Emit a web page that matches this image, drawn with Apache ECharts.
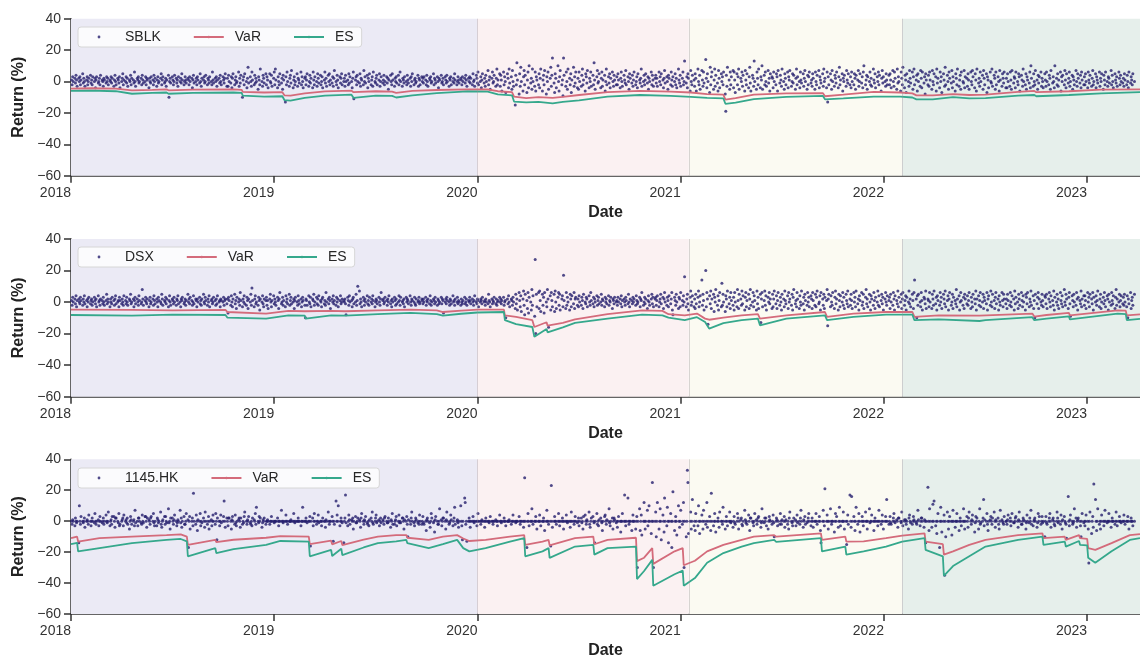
<!DOCTYPE html>
<html>
<head>
<meta charset="utf-8">
<script src="https://cdn.jsdelivr.net/npm/echarts@6/dist/echarts.min.js"></script>
<style>
  html, body { margin: 0; padding: 0; background: #ffffff; }
  #chart { width: 1140px; height: 660px; }
</style>
</head>
<body>
<div id="chart"></div>
<script>
// Daily returns (%) and rolling VaR / ES for three shipping stocks, 2018 - 2023.

const tickers = ['SBLK', 'DSX', '1145.HK'];
const yearTicks = [2018, 2019, 2020, 2021, 2022, 2023];
// Market regimes (decimal years): pre-pandemic, pandemic, recovery, post-2022
const regimeEdges = [2018, 2020, 2021.04, 2022.09, 2023.26];

// Daily returns (%), one value per trading day starting 2018-01-02
const sblkReturns = [
1,-2,3,0,2,-1,4,1,-3,2,0,3,-2,1,5,-1,2,0,-3,1,3,-2,0,2,4,-1,1,-2,3,0,2,-4,1,3,-1,0,2,-2,4,1,0,-3,2,1,-1,3,0,2,-2,1,
0,3,-1,2,-3,1,4,0,-2,2,1,-1,3,-4,0,2,5,-2,1,0,3,-1,2,-3,1,0,4,-2,2,1,-1,6,0,-3,2,1,3,-1,0,2,-2,4,1,-1,0,3,-2,2,1,-4,
2,0,-1,3,1,-2,4,0,2,-3,1,3,-1,0,2,5,-2,1,3,-1,0,2,-3,1,4,-10,0,2,-1,3,1,-2,0,4,2,-1,1,-3,3,0,2,-1,5,1,-2,0,3,1,-1,2,
1,-2,3,0,2,-4,1,4,-1,0,2,-2,3,1,-1,5,0,-3,2,1,3,-1,0,4,-2,2,1,-1,3,0,-2,6,1,-1,2,0,3,-3,1,2,-1,4,0,-2,3,1,-1,2,5,-3,
2,-3,4,0,-1,3,-4,2,5,-2,1,3,-1,0,6,-3,2,-1,4,-10,1,3,-2,5,0,-4,2,9,-1,3,0,-3,6,1,-2,4,-1,2,0,-5,3,1,-2,8,0,-3,4,2,-1,5,
-2,3,1,-4,5,0,-1,4,-3,2,6,-2,8,1,-4,3,0,-2,5,-1,2,-5,4,1,-13,3,-2,6,0,-3,2,4,-1,7,-4,1,3,-2,0,5,-3,2,1,-1,6,-2,3,0,-4,2,
3,-2,1,5,-3,0,4,-1,2,-4,6,1,-2,3,0,-3,5,2,-1,4,-2,0,3,-4,1,6,-1,2,-3,4,0,5,-2,1,-1,3,-3,2,7,0,-2,4,1,-4,3,-1,2,5,-2,0,
2,-3,4,0,1,-2,5,-1,3,0,-4,2,6,-11,1,3,-2,4,0,-1,5,-3,2,1,-2,7,0,3,-1,4,-4,2,0,5,-2,1,3,-3,6,0,-1,2,4,-2,1,5,-3,0,3,-1,
1,4,-2,0,3,-1,2,-5,1,4,0,-2,5,1,-3,2,0,3,-1,4,-2,1,6,0,-3,2,1,-1,3,0,-2,4,1,-1,2,-3,3,0,5,-2,1,2,-1,0,4,-3,2,1,-2,3,
0,2,-1,3,1,-2,4,0,-3,2,1,3,-1,0,5,-2,2,1,-1,3,0,-4,2,1,4,-1,0,2,-2,3,1,-1,4,0,-3,2,1,3,-2,0,2,-1,5,1,-2,0,3,1,-1,2,
1,-2,3,0,2,-1,4,1,-3,2,0,3,-1,2,-2,5,0,1,-3,4,2,-1,6,-2,0,3,-4,1,5,-1,2,-3,4,0,7,-2,1,3,-5,2,6,-1,0,4,-3,2,8,-2,1,5,
-3,4,1,-6,6,-2,3,0,-7,5,2,-4,8,-1,3,-5,7,0,-3,-15,4,-2,12,1,-8,5,-3,9,0,-6,3,7,-2,4,-7,1,6,-4,10,-1,2,-5,8,0,-3,6,-6,3,1,-2,
5,-4,2,8,-6,1,4,-2,7,-8,3,0,6,-5,2,9,-3,4,15,-1,-7,5,2,-4,10,0,-6,3,7,-2,1,-9,15,4,-3,6,0,-5,8,2,-2,5,-7,1,9,-3,3,-1,6,-4,
2,-5,6,0,-3,4,8,-2,1,-6,5,3,-1,7,-4,2,0,6,-3,4,-2,12,1,-5,3,7,-1,0,5,-4,2,6,-3,1,4,-6,0,8,-2,3,-1,5,-4,2,6,0,-3,4,1,-2,
3,-2,5,1,-4,2,6,0,-3,4,1,-1,7,-2,3,0,-5,5,2,-1,4,-3,1,6,-2,0,3,-4,5,1,-1,2,8,-3,0,4,-2,1,5,-1,3,-5,2,0,6,-2,4,1,-3,2,
4,-1,2,-3,6,0,3,-2,5,1,-4,2,7,-1,3,0,-5,4,2,-2,6,1,-3,3,0,5,-2,2,-4,8,1,-1,4,-3,2,6,-2,0,13,-1,3,-4,5,2,-6,7,0,-2,4,1,
-3,5,2,-6,8,0,-2,4,-5,7,1,-3,6,-1,14,2,-4,5,0,-7,9,-2,3,6,-5,1,8,-3,4,-1,-6,7,2,-4,5,0,3,-2,6,-8,-19,4,-3,9,1,-5,6,-2,3,7,
-4,6,1,-7,5,-2,3,8,-5,2,0,6,-3,4,-6,7,1,-2,5,-4,3,9,-1,-6,4,2,-3,13,0,-5,6,2,-2,8,-4,3,1,10,-5,4,-2,6,0,-3,7,-1,2,-6,5,3,
2,-4,6,0,-2,5,3,-6,7,-1,4,1,-3,8,0,-5,5,2,-2,6,-4,3,1,7,-3,0,5,-1,4,-5,2,8,-2,3,0,-4,6,1,-1,5,-3,2,7,0,-5,4,-2,3,6,-1,
1,-3,5,2,-5,6,0,-2,4,7,-4,3,1,-1,5,-3,8,0,2,-4,6,-13,3,-2,5,1,-5,7,0,-3,4,2,-1,6,-4,3,9,-2,1,5,-6,2,0,4,-3,7,1,-1,5,-2,
3,-4,6,0,-2,5,2,-5,4,1,7,-3,0,5,-1,3,-4,6,10,-2,1,4,-5,3,0,6,-2,2,-3,8,1,-1,5,-4,3,0,6,-2,4,-6,2,7,-1,3,0,-3,5,1,-2,4,
-2,5,1,-4,7,0,-3,6,2,-5,8,-1,3,0,-6,6,2,-2,9,-4,4,1,-7,5,0,-3,7,2,-1,6,-5,3,8,-2,1,4,-6,5,0,-3,7,2,-4,6,-1,3,-8,5,1,-2,
4,-3,6,1,-5,7,0,-2,5,3,-6,8,-1,2,-4,6,0,3,-7,5,1,-3,9,-2,4,0,-5,6,2,-1,7,-4,3,0,-6,5,2,-2,8,-3,1,4,-5,6,0,-1,7,-4,3,2,
-3,5,1,-5,6,0,-2,7,3,-4,5,1,-6,8,-1,2,-3,6,0,4,-5,7,2,-2,5,-7,3,1,-4,6,0,-1,8,-3,4,2,-5,6,-2,3,0,-6,7,1,-3,5,2,-1,6,-4,
2,-4,5,0,-3,6,1,-5,7,-1,3,2,-4,6,0,-2,5,3,-6,4,1,-3,8,0,-2,5,-5,3,1,-1,6,-4,10,2,-3,5,0,-2,7,1,-5,4,-1,3,6,-3,2,0,-4,5,
1,-3,6,0,-2,4,2,-5,7,-1,3,0,-4,10,2,-2,5,-3,1,6,-6,3,0,4,-2,7,1,-4,5,-1,2,6,-3,0,4,-5,3,1,-2,7,0,-3,5,2,-1,4,-4,6,1,-2,
3,-2,5,0,-4,6,1,-1,4,-3,2,7,-2,0,5,-4,3,1,-1,6,-3,2,0,5,-5,4,1,-2,6,0,-3,3,2,-1,7,-2,4,0,-4,5,1,-1,3,-3,6,2,-2,4,0,-1,
2,-3,5,1,-2,4,0,-4,6,-1,3,1,-2,5,0
];

const dsxReturns = [
1,-2,3,0,2,-1,4,-3,1,2,0,-1,3,1,-2,2,0,4,-1,1,-3,2,0,3,-1,1,2,-2,0,3,1,-1,2,-3,4,0,1,-2,2,1,-1,3,0,-2,1,5,-1,2,0,-3,
2,0,-1,3,1,-2,2,4,-1,0,1,-3,3,1,-1,2,0,-2,4,1,-1,3,0,-2,2,1,5,-1,0,2,-3,1,3,-1,2,0,-2,4,1,-1,0,8,2,-2,1,3,0,-1,2,-3,
1,3,-1,0,2,-2,4,1,-1,2,0,-3,3,1,0,-1,5,2,-2,1,0,3,-1,2,-3,1,4,0,-2,2,1,-1,3,0,-2,2,1,4,-1,0,-3,2,1,3,-1,0,2,-2,1,5,
0,2,-1,3,1,-2,0,4,-1,2,1,-3,2,0,3,-1,1,-2,2,5,0,-1,3,1,-2,2,0,4,-3,1,2,-1,0,3,1,-2,2,-1,4,0,1,-3,2,1,0,3,-2,1,2,-1,
2,-7,3,1,-2,4,0,-3,2,5,-1,1,-4,3,0,2,-2,6,1,-3,2,0,4,-1,-2,3,1,-4,2,0,5,-2,9,1,-3,2,4,-1,0,-2,3,1,-5,2,0,4,-1,-3,2,1,
3,-2,1,-4,2,5,0,-3,1,4,-1,2,0,-2,3,1,-4,2,6,-1,0,3,-2,1,-3,4,0,2,-1,5,-2,1,3,-1,0,2,-4,1,3,0,-2,4,1,-1,2,-3,0,3,1,-2,
-10,2,1,-2,4,0,-1,3,-3,2,1,5,-2,0,3,-1,2,-2,4,1,0,-3,2,3,-1,1,-2,6,0,2,-1,3,1,-4,2,0,4,-1,1,-2,3,0,2,-3,1,4,-1,0,2,1,
0,2,-1,-8,3,1,-2,4,0,1,-3,2,3,-1,0,5,-2,1,10,7,-1,2,0,-3,3,1,-2,2,0,4,-1,1,-2,3,0,2,-1,4,1,-3,0,2,1,-1,3,0,-2,2,6,1,
2,-1,0,3,1,-2,2,0,4,-1,1,-3,2,0,3,1,-2,2,-1,0,4,1,-2,3,0,1,-1,2,-3,3,0,2,1,-1,4,0,-2,2,1,0,3,-1,-2,2,0,1,3,-1,0,2,
1,-1,2,0,3,-2,1,0,2,-1,4,1,-2,0,2,1,-1,3,0,-2,2,1,-1,0,3,-1,2,1,-7,0,2,-1,3,1,0,-2,2,1,-1,4,0,1,-2,2,0,3,-1,1,0,-2,
2,0,-1,1,3,-1,0,2,-2,1,0,3,1,-1,2,0,-2,1,4,0,-1,2,1,-3,0,2,1,-1,3,0,1,-2,2,0,-1,5,1,0,-3,2,-1,1,0,3,-1,2,-2,0,1,3,
0,2,-1,1,3,-2,0,1,-10,2,-1,4,0,-3,2,1,-2,3,0,-4,5,-1,2,-5,6,1,-3,4,-6,2,7,-2,-8,5,1,-4,6,-7,3,0,-5,8,-2,4,-9,27,-20,5,-3,6,
-4,7,1,-6,5,-2,3,-7,6,0,-3,8,2,-16,4,-5,6,1,-3,5,-6,7,0,-4,3,6,-2,5,-5,2,4,-3,17,1,-4,6,-2,3,0,-5,5,2,-3,4,-1,6,-4,2,3,-2,
2,-3,4,0,-2,3,1,-4,5,0,-1,3,2,-3,4,0,-2,6,1,-1,3,-3,2,0,4,-2,1,3,-1,0,5,-2,2,1,-3,3,0,2,-1,4,-2,1,0,3,-4,2,1,-1,3,0,
1,-2,3,0,2,-1,4,-3,1,2,0,-2,3,1,-1,5,0,-3,2,1,-1,3,0,2,-2,4,1,-1,0,3,-3,2,1,6,-2,0,3,-1,2,-4,1,4,0,-2,2,5,-1,3,-3,2,
3,-2,1,4,-3,0,2,5,-1,3,-4,2,6,0,-2,3,1,-3,4,-1,2,6,-5,-8,3,1,-2,5,0,-4,3,2,-3,6,1,-2,4,0,16,-3,2,5,-1,-5,3,7,-2,0,4,-3,
2,-4,5,-1,3,7,-3,0,4,14,-2,5,1,-5,20,-3,6,2,-14,4,-1,7,-4,2,5,-6,3,0,8,-2,4,-5,1,6,-3,12,-2,5,0,-6,4,2,-3,7,-1,3,-4,6,1,-2,
3,-5,6,0,-3,8,1,-4,5,2,-2,7,-1,4,-5,3,6,-3,1,5,-4,2,8,-2,0,6,-3,4,1,-5,7,-1,3,-4,5,-13,2,6,-3,1,7,-2,4,-5,3,0,6,-1,2,-4,
5,-3,2,7,-1,4,-4,1,6,-2,3,0,-5,5,2,-3,7,1,-1,4,-4,6,0,2,-2,5,-5,3,8,-1,1,-3,6,2,-4,4,0,-2,7,-1,3,-5,5,1,-2,6,0,3,-3,4,
2,-4,6,1,-2,5,-3,3,7,-1,0,4,-5,6,2,-2,5,-4,3,1,8,-15,2,5,-3,4,0,-2,6,-4,3,7,-1,2,-5,5,1,-3,4,0,6,-2,3,-4,5,1,-1,7,-3,2,
-2,5,1,-4,6,0,3,-3,7,-1,2,-5,4,1,6,-2,0,5,-4,3,8,-1,2,-3,5,0,-5,4,2,-2,6,1,-4,3,0,7,-2,4,-3,1,5,-1,3,-5,2,6,0,-2,4,1,
3,-4,5,0,-2,6,2,-5,4,1,-1,7,-3,3,0,5,-4,2,6,-2,1,4,-5,3,0,7,-1,2,-3,5,1,-4,6,14,2,-10,4,-2,5,0,-3,6,1,-5,3,2,-1,7,-4,2,
1,-3,6,0,-4,5,2,-2,7,-1,3,-5,4,1,-2,6,0,3,-4,5,2,-1,7,-3,1,4,-5,2,6,-2,0,5,-4,3,1,-1,8,-3,2,4,-5,0,6,1,-2,3,-4,5,2,-1,
4,-2,1,6,-4,3,0,-3,5,2,-1,7,-5,2,4,-2,1,6,-3,0,5,-4,3,1,-1,6,-5,2,4,-2,7,0,-3,5,1,-4,3,6,-1,2,-5,4,0,-2,6,1,-3,5,2,-1,
2,-4,5,1,-2,6,0,-3,4,2,-5,7,-1,3,0,-4,5,2,-2,6,1,-3,4,0,-5,5,3,-1,6,-3,2,0,7,-2,4,-4,1,-10,5,-1,3,6,-4,2,0,-2,5,1,-3,4,
3,-1,5,-4,2,6,0,-3,4,1,-2,7,-5,3,0,5,-2,2,-4,6,1,-1,4,-3,8,0,-2,5,2,-4,3,6,-1,-9,4,1,-3,5,0,-2,6,2,-5,3,1,-1,7,-3,2,4,
-2,4,1,-4,6,0,3,-3,5,2,-1,6,-5,3,0,4,-2,1,7,-3,2,5,-4,0,3,-1,6,1,-3,4,2,-5,5,0,-2,6,1,-1,4,-4,3,8,-2,2,0,5,-3,1,4,-1,
3,-2,5,0,-3,4,-10,2,-1,6,-4,1,3,-2,5
];

const hkReturns = [
0,-2,1,0,-3,2,0,-1,0,-14,10,0,-2,3,0,-1,0,2,-4,0,1,0,-2,4,0,-3,0,2,0,-1,5,0,-2,0,1,-3,0,3,0,-1,0,2,-2,0,4,0,-1,0,6,-3,
0,1,-2,3,3,0,-4,2,2,0,-1,5,-3,-2,0,1,2,-3,4,0,1,-1,2,-2,-5,0,3,1,-2,0,1,-3,7,-1,0,-3,2,2,0,-1,-2,4,0,-1,3,3,0,-4,2,1,
0,-2,2,3,0,5,-1,-3,0,-3,2,1,-1,0,6,-2,-4,0,1,3,-2,3,0,-1,8,-1,0,-5,2,2,0,-2,1,4,0,-3,-1,1,0,7,-1,2,-4,0,3,-2,-2,0,5,1,
-17,0,3,-5,0,2,-3,18,0,-2,4,0,-6,1,0,5,-3,0,-1,2,0,-4,6,0,-2,0,3,-5,0,1,-3,0,4,0,-2,5,0,-12,2,0,-3,0,4,-1,0,3,13,0,-4,2,
0,-3,2,2,0,-5,1,3,0,-2,4,-1,-3,0,1,2,0,-4,2,-2,0,-1,3,6,0,-2,1,0,3,-1,-2,0,-3,2,1,0,5,-2,9,0,-1,3,0,2,-4,-1,1,0,2,-2,
0,0,1,0,-2,0,0,3,0,0,-1,0,0,0,2,0,-3,0,0,7,0,0,-1,0,0,4,0,0,-2,0,0,0,1,0,0,5,0,-1,0,0,0,2,0,0,-3,0,0,9,0,0,
0,2,0,-1,0,0,3,-16,0,2,-3,0,5,0,-2,0,0,4,-1,0,0,-3,0,2,0,0,-4,1,0,6,0,-2,0,0,3,0,-13,0,-2,13,0,4,0,10,-3,0,2,0,-1,-14,
0,2,17,-1,-3,0,4,1,-2,1,0,2,-5,0,3,-1,-1,0,2,1,0,-4,2,5,0,-2,1,0,3,-1,-2,0,-3,1,2,0,6,-1,-2,0,2,4,-1,0,1,-3,0,2,-1,1,
0,-2,2,3,0,-1,-1,2,0,-4,1,0,5,-2,-2,0,1,3,-3,0,4,-1,0,-1,2,2,0,-5,1,0,3,-2,-10,1,0,-2,2,6,0,-1,-3,0,2,1,-1,0,-2,4,0,-2,
0,3,-1,-2,0,-6,1,2,0,-1,-4,0,5,2,-1,0,-7,1,3,0,-2,-2,0,8,1,-3,0,2,2,0,-5,1,6,0,-2,-1,0,4,1,-3,0,2,9,-2,0,1,-1,-4,0,10,
0,-3,-12,0,15,12,-2,0,-13,0,2,0,-4,0,0,3,0,-1,0,0,-3,0,5,0,0,-2,0,1,0,0,-4,0,2,0,0,0,-1,0,3,0,0,-2,0,0,1,0,0,-3,0,4,
0,0,-1,0,0,2,0,0,-3,0,0,0,1,0,-2,0,0,4,0,0,-1,0,0,0,3,0,-2,0,0,0,-4,0,28,0,-17,0,5,0,-3,0,0,8,0,-2,0,0,3,0,-5,0,
0,4,0,-3,0,0,2,0,-6,0,7,0,0,-2,0,-16,23,0,-4,0,3,0,0,-2,0,5,0,-3,0,0,2,0,-5,0,0,4,0,-1,0,0,-4,0,6,0,0,-2,0,3,0,-1,
0,2,-3,0,2,-1,0,-5,3,4,0,-2,1,0,6,-2,-4,0,2,3,0,-1,-14,0,5,-2,0,-3,1,2,0,-1,-6,0,3,4,0,-2,1,0,8,-1,-3,0,2,-5,0,2,1,-1,
0,-4,0,3,0,-7,0,0,5,0,17,0,-3,0,15,0,-2,0,0,-6,0,4,0,0,-5,0,3,-30,0,8,-6,0,4,-9,0,12,0,-5,0,7,-3,0,10,0,-8,0,25,0,-30,0,
6,-10,0,12,-5,0,8,0,-12,4,0,-7,15,0,-3,9,0,-14,0,5,0,-17,0,19,-6,0,3,0,-9,10,0,-4,0,7,-2,0,12,-30,0,-10,0,33,25,-8,0,6,-5,0,14,-3,
0,-6,5,0,-3,10,0,-8,0,4,0,-5,7,0,-2,0,12,-4,0,3,0,-6,18,0,-3,0,5,0,-7,0,2,0,-4,6,0,0,-2,9,0,-5,0,3,0,-3,0,6,0,-1,0,-4,
0,3,-1,-2,0,5,2,-5,0,1,2,-2,-3,0,7,1,-1,0,-2,4,0,-6,2,2,0,-1,-3,0,5,1,-2,0,2,3,0,-4,-1,8,0,-1,2,0,2,-3,-5,0,3,1,0,-2,
0,4,-1,-10,0,2,1,-3,0,-2,5,0,-2,1,0,3,-4,0,1,-2,0,-5,2,6,0,-1,-3,0,2,1,-3,0,4,-1,0,-2,2,7,0,-4,1,0,3,-2,-1,0,2,5,0,-3,
0,2,0,-4,0,0,5,0,-2,0,3,0,-6,-14,0,7,0,-3,21,0,4,0,-5,0,8,0,-2,0,0,-7,0,5,0,3,-4,0,9,0,-3,0,0,6,0,-5,0,-15,0,4,-2,17,
0,-4,16,0,3,0,-6,0,9,-2,0,5,0,-7,0,3,0,-3,0,6,0,0,-5,0,8,-1,0,0,4,0,-6,0,2,0,0,-3,0,7,0,-2,0,4,0,-5,0,3,0,14,0,-2,
0,3,-1,-2,0,2,5,0,-1,1,0,-4,2,2,0,-1,6,0,-3,1,0,1,-2,0,-5,2,4,0,-1,-2,0,3,1,0,-1,-2,0,7,1,-3,0,2,2,0,-4,1,0,-14,0,22,
0,-6,8,0,-4,0,11,0,13,-3,0,-8,0,5,-17,0,9,0,-7,0,4,-35,0,-10,6,0,-5,0,3,0,-9,0,7,0,-4,0,0,5,0,-6,0,2,0,-3,0,8,0,-5,0,3,
0,-4,2,6,0,-2,1,4,0,-7,-1,3,0,2,-5,0,8,-2,-1,0,2,14,-3,1,0,5,-2,-6,0,1,3,0,-2,2,6,0,-4,1,0,2,-2,-5,0,7,1,0,-1,-2,3,0,
0,-2,1,4,0,2,-3,0,5,-1,-1,0,2,3,0,-4,1,6,0,-2,-2,0,2,1,0,-5,-1,4,0,-1,2,0,7,-2,-3,0,1,2,0,-4,-1,5,0,3,-2,0,3,-1,0,-10,
0,3,-1,-2,0,2,5,0,-4,1,2,0,-2,-3,0,6,2,-1,0,-2,4,0,-5,1,3,0,-1,-2,-11,16,0,-3,1,4,0,-2,-1,0,8,2,-4,0,1,2,0,-3,-10,0,5,-1,
0,-3,0,4,0,-5,-27,0,6,-8,0,3,-4,24,14,0,-6,0,8,-2,0,-5,0,4,0,-3,0,7,0,-1,0,0,5,0,-4,0,2,0,0,-2,0,6,0,-3,0,3,0,0,-1,0,
0,4,0,-2,0,0,3,0,-5,0,2,0,0,-3,0
];

// Rolling VaR / ES (%): [decimal year, value]
const sblkVaR = [[2018.00,-4.5],[2018.10,-4.3],[2018.22,-4.6],[2018.30,-5.6],[2018.40,-5.3],[2018.47,-5.0],[2018.48,-5.6],[2018.60,-5.2],[2018.80,-5.0],[2018.84,-5.3],[2018.845,-6.6],[2018.95,-7.0],[2019.04,-6.8],[2019.05,-8.8],[2019.08,-9.0],[2019.15,-7.5],[2019.25,-6.3],[2019.38,-5.8],[2019.39,-6.8],[2019.50,-6.2],[2019.58,-6.4],[2019.60,-7.2],[2019.68,-6.0],[2019.80,-5.4],[2019.95,-5.0],[2020.05,-5.1],[2020.10,-6.2],[2020.17,-6.8],[2020.18,-9.6],[2020.24,-10.6],[2020.30,-10.0],[2020.37,-10.4],[2020.42,-9.8],[2020.50,-8.6],[2020.64,-6.8],[2020.80,-6.0],[2020.95,-6.4],[2021.05,-7.0],[2021.13,-8.0],[2021.21,-8.4],[2021.22,-11.6],[2021.27,-10.6],[2021.36,-8.4],[2021.52,-7.6],[2021.70,-7.4],[2021.71,-9.4],[2021.80,-8.4],[2021.95,-6.6],[2022.08,-7.0],[2022.14,-7.6],[2022.16,-8.8],[2022.24,-8.9],[2022.34,-8.0],[2022.42,-8.6],[2022.50,-8.4],[2022.66,-6.6],[2022.74,-6.0],[2022.75,-6.8],[2022.91,-6.2],[2023.07,-5.2],[2023.26,-5.0]];
const sblkES = [[2018.00,-6.0],[2018.10,-5.8],[2018.22,-6.2],[2018.30,-7.8],[2018.40,-7.3],[2018.47,-7.0],[2018.48,-7.8],[2018.60,-7.2],[2018.80,-7.0],[2018.84,-7.3],[2018.845,-9.0],[2018.95,-9.6],[2019.04,-9.4],[2019.05,-11.8],[2019.08,-12.2],[2019.15,-10.4],[2019.25,-9.0],[2019.38,-8.4],[2019.39,-10.4],[2019.50,-9.0],[2019.58,-9.2],[2019.60,-10.2],[2019.68,-8.8],[2019.80,-7.4],[2019.95,-6.3],[2020.05,-6.5],[2020.10,-8.2],[2020.17,-8.8],[2020.18,-12.8],[2020.24,-13.3],[2020.30,-13.0],[2020.37,-13.9],[2020.42,-13.0],[2020.50,-12.0],[2020.64,-9.6],[2020.80,-8.6],[2020.95,-9.2],[2021.05,-9.8],[2021.13,-10.4],[2021.21,-10.8],[2021.22,-14.2],[2021.27,-13.4],[2021.36,-11.2],[2021.52,-9.8],[2021.70,-9.2],[2021.71,-11.4],[2021.80,-10.8],[2021.95,-9.6],[2022.08,-9.6],[2022.14,-10.2],[2022.16,-11.4],[2022.24,-11.4],[2022.34,-10.0],[2022.42,-10.8],[2022.50,-10.6],[2022.66,-9.0],[2022.74,-8.6],[2022.75,-9.4],[2022.91,-8.6],[2023.07,-7.6],[2023.26,-6.8]];

const dsxVaR = [[2018.00,-4.8],[2018.30,-5.0],[2018.50,-5.2],[2018.76,-5.0],[2018.77,-6.3],[2018.96,-7.3],[2019.07,-5.6],[2019.15,-5.8],[2019.155,-6.9],[2019.28,-5.6],[2019.35,-5.8],[2019.355,-6.2],[2019.51,-5.2],[2019.67,-4.8],[2019.80,-5.2],[2019.83,-6.3],[2019.92,-5.4],[2020.00,-4.8],[2020.13,-4.8],[2020.135,-8.4],[2020.19,-9.4],[2020.27,-11.5],[2020.28,-15.8],[2020.34,-12.8],[2020.345,-15.0],[2020.42,-13.2],[2020.48,-11.0],[2020.64,-7.7],[2020.81,-5.2],[2020.91,-5.6],[2020.94,-7.7],[2021.02,-8.4],[2021.08,-7.3],[2021.12,-10.5],[2021.14,-11.2],[2021.21,-9.8],[2021.30,-8.4],[2021.38,-7.7],[2021.39,-10.5],[2021.52,-8.4],[2021.71,-6.3],[2021.72,-9.4],[2021.85,-7.3],[2022.01,-6.3],[2022.14,-6.3],[2022.15,-9.4],[2022.27,-8.4],[2022.47,-8.6],[2022.73,-7.3],[2022.74,-9.2],[2022.80,-8.2],[2022.91,-6.8],[2022.915,-8.4],[2023.15,-5.2],[2023.19,-5.4],[2023.195,-8.4],[2023.26,-7.8]];
const dsxES = [[2018.00,-8.2],[2018.30,-8.6],[2018.50,-8.0],[2018.76,-8.2],[2018.77,-9.9],[2018.96,-10.5],[2019.07,-8.4],[2019.15,-8.6],[2019.155,-10.5],[2019.28,-8.4],[2019.35,-8.6],[2019.355,-9.4],[2019.51,-7.7],[2019.67,-6.9],[2019.80,-7.6],[2019.83,-8.6],[2019.92,-7.4],[2020.00,-6.6],[2020.13,-6.3],[2020.135,-11.5],[2020.19,-14.0],[2020.27,-15.8],[2020.28,-22.0],[2020.34,-17.0],[2020.345,-19.2],[2020.42,-16.0],[2020.48,-13.2],[2020.64,-10.5],[2020.81,-8.0],[2020.91,-8.4],[2020.94,-9.9],[2021.02,-11.5],[2021.08,-9.6],[2021.12,-12.6],[2021.14,-16.8],[2021.21,-13.4],[2021.30,-11.5],[2021.38,-10.5],[2021.39,-14.7],[2021.52,-10.5],[2021.71,-8.4],[2021.72,-11.5],[2021.85,-9.4],[2022.01,-8.0],[2022.14,-8.0],[2022.15,-11.5],[2022.27,-11.0],[2022.47,-12.0],[2022.50,-11.5],[2022.73,-9.6],[2022.74,-11.5],[2022.80,-10.5],[2022.91,-9.0],[2022.915,-11.0],[2023.15,-7.3],[2023.19,-7.6],[2023.195,-11.5],[2023.26,-10.6]];

const hkVaR = [[2018.00,-11],[2018.03,-10],[2018.035,-13.2],[2018.14,-11],[2018.30,-10],[2018.47,-9],[2018.54,-8.5],[2018.57,-10],[2018.575,-15.3],[2018.71,-12.1],[2018.715,-13.5],[2018.80,-12.0],[2018.96,-10.7],[2019.03,-9.6],[2019.17,-10.0],[2019.175,-14.9],[2019.28,-12.6],[2019.285,-15.0],[2019.33,-12.8],[2019.335,-15.4],[2019.44,-12.0],[2019.51,-10.0],[2019.60,-9.0],[2019.65,-9.0],[2019.655,-10.7],[2019.76,-12.1],[2019.83,-10.0],[2019.90,-9.0],[2019.93,-11.2],[2019.96,-12.8],[2020.04,-12.1],[2020.16,-10.0],[2020.23,-9.0],[2020.235,-15.3],[2020.32,-13.2],[2020.35,-12.1],[2020.355,-15.6],[2020.48,-11.0],[2020.57,-10.0],[2020.575,-14.9],[2020.64,-12.1],[2020.78,-10.7],[2020.785,-25.8],[2020.82,-23.6],[2020.86,-17.4],[2020.865,-27.6],[2020.97,-19.5],[2021.01,-17.4],[2021.015,-28.5],[2021.07,-25.6],[2021.13,-19.5],[2021.21,-15.3],[2021.30,-12.1],[2021.36,-10.0],[2021.46,-9.0],[2021.47,-10.0],[2021.69,-7.9],[2021.695,-12.1],[2021.81,-10.0],[2021.815,-13.2],[2021.90,-13.0],[2022.01,-11.0],[2022.09,-9.3],[2022.20,-7.9],[2022.205,-13.2],[2022.29,-14.9],[2022.295,-21.6],[2022.34,-19.5],[2022.42,-15.3],[2022.50,-12.1],[2022.66,-9.0],[2022.78,-7.9],[2022.785,-11.0],[2022.89,-10.0],[2022.895,-12.1],[2022.96,-9.0],[2022.965,-11.0],[2023.00,-11.4],[2023.005,-17.4],[2023.04,-18.5],[2023.12,-14.2],[2023.21,-9.0],[2023.26,-8.4]];
const hkES = [[2018.00,-14.9],[2018.03,-14.0],[2018.035,-19.5],[2018.14,-17.4],[2018.30,-14.2],[2018.47,-12.1],[2018.54,-11.5],[2018.57,-13.0],[2018.575,-22.7],[2018.71,-17.4],[2018.715,-20.6],[2018.80,-18.0],[2018.96,-15.3],[2019.03,-12.8],[2019.17,-13.2],[2019.175,-22.7],[2019.28,-18.5],[2019.285,-22.5],[2019.33,-17.8],[2019.335,-22.0],[2019.44,-17.0],[2019.51,-14.2],[2019.60,-13.0],[2019.65,-12.1],[2019.655,-14.2],[2019.76,-17.4],[2019.83,-14.9],[2019.90,-12.1],[2019.93,-17.4],[2019.96,-19.5],[2020.04,-17.4],[2020.16,-13.2],[2020.23,-11.0],[2020.235,-22.7],[2020.32,-19.5],[2020.35,-17.4],[2020.355,-23.7],[2020.48,-16.4],[2020.57,-15.3],[2020.575,-21.6],[2020.64,-17.4],[2020.78,-16.4],[2020.785,-37.4],[2020.82,-32.2],[2020.86,-25.0],[2020.865,-41.7],[2020.97,-34.3],[2021.01,-32.0],[2021.015,-41.7],[2021.07,-36.8],[2021.13,-26.9],[2021.21,-20.6],[2021.30,-16.4],[2021.36,-14.2],[2021.46,-12.1],[2021.47,-13.4],[2021.69,-11.0],[2021.695,-19.5],[2021.81,-16.4],[2021.815,-21.6],[2021.90,-19.5],[2022.01,-16.4],[2022.09,-13.2],[2022.20,-11.0],[2022.205,-18.5],[2022.29,-22.7],[2022.295,-35.3],[2022.34,-29.0],[2022.42,-22.7],[2022.50,-16.4],[2022.66,-12.1],[2022.78,-10.0],[2022.785,-15.3],[2022.89,-13.2],[2022.895,-16.4],[2022.96,-12.8],[2022.965,-15.3],[2023.00,-15.6],[2023.005,-23.7],[2023.04,-26.9],[2023.12,-19.5],[2023.21,-12.1],[2023.26,-11.0]];

const returnsByPanel = [sblkReturns, dsxReturns, hkReturns];
const varByPanel = [sblkVaR, dsxVaR, hkVaR];
const esByPanel = [sblkES, dsxES, hkES];

// ---- styling / layout ----
const FONT = '"Liberation Sans", Arial, Helvetica, sans-serif';
const regimeColors = ['#ebeaf5', '#fbf1f2', '#fbfaf2', '#e6efeb'];
const DOT = '#261f6e', VAR_C = '#d46b7b', ES_C = '#35a88c', AXIS_C = '#333333';
const gridTops = [18.7, 239, 459.3];
const gridHeights = [157, 157.7, 158];
const legendTops = [27, 247, 468];
const X_MAX = regimeEdges[regimeEdges.length - 1];
// small dot centred in a 30x3 legend slot (corner specks fix the slot size)
const DOT_ICON = 'path://M0,0h0.01v0.01h-0.01zM29.99,2.99h0.01v0.01h-0.01zM13.6,1.5a1.4,1.4 0 1,0 2.8,0a1.4,1.4 0 1,0 -2.8,0z';

// trading-day positions (weekdays from 2018-01-02) as decimal years
function tradingDayYears(n) {
  const out = [];
  let t = Date.UTC(2018, 0, 2);
  while (out.length < n) {
    const d = new Date(t);
    const wd = d.getUTCDay();
    if (wd !== 0 && wd !== 6) {
      const y = d.getUTCFullYear();
      const s = Date.UTC(y, 0, 1), e = Date.UTC(y + 1, 0, 1);
      out.push(y + (t - s) / (e - s));
    }
    t += 86400000;
  }
  return out;
}

const minus = v => (v < 0 ? '\u2212' + Math.abs(v) : String(v));

const grids = [], xAxes = [], yAxes = [], series = [], legends = [];
tickers.forEach((name, p) => {
  grids.push({ left: 71, right: -9, top: gridTops[p], height: gridHeights[p], containLabel: false });
  xAxes.push({
    type: 'value', gridIndex: p, min: 2018, max: X_MAX,
    name: 'Date', nameLocation: 'middle', nameGap: 29,
    nameTextStyle: { fontFamily: FONT, fontSize: 16, fontWeight: 'bold', color: '#222' },
    axisLine: { show: true, onZero: false, lineStyle: { color: AXIS_C, width: 1.5 } },
    axisTick: { show: true, length: 7, customValues: yearTicks, lineStyle: { color: AXIS_C, width: 1.5 } },
    axisLabel: { customValues: yearTicks, margin: 10, align: 'right', fontFamily: FONT, fontSize: 14, color: '#333',
                 formatter: v => String(Math.round(v)) },
    splitLine: { show: false }
  });
  yAxes.push({
    type: 'value', gridIndex: p, min: -60, max: 40, interval: 20,
    name: 'Return (%)', nameLocation: 'middle', nameGap: 41, nameRotate: 90,
    nameTextStyle: { fontFamily: FONT, fontSize: 16, fontWeight: 'bold', color: '#222' },
    axisLine: { show: true, onZero: false, lineStyle: { color: AXIS_C, width: 1.5 } },
    axisTick: { show: true, length: 7, lineStyle: { color: AXIS_C, width: 1.5 } },
    axisLabel: { margin: 10, fontFamily: FONT, fontSize: 14, color: '#333', formatter: minus },
    splitLine: { show: false }
  });

  const days = tradingDayYears(returnsByPanel[p].length);

  // regime shading + boundary lines
  series.push({
    type: 'line', xAxisIndex: p, yAxisIndex: p, data: [], silent: true, z: 0,
    markArea: {
      silent: true,
      data: regimeColors.map((c, k) => [
        { xAxis: regimeEdges[k], itemStyle: { color: c } },
        { xAxis: regimeEdges[k + 1] }
      ])
    },
    markLine: {
      silent: true, symbol: 'none', label: { show: false },
      lineStyle: { color: 'rgba(150,140,150,0.35)', width: 1, type: 'solid' },
      data: regimeEdges.slice(1, -1).map(v => ({ xAxis: v }))
    }
  });
  series.push({
    type: 'scatter', name, xAxisIndex: p, yAxisIndex: p, z: 2,
    symbol: 'circle', symbolSize: 3,
    itemStyle: { color: DOT },
    data: returnsByPanel[p].map((r, i) => [days[i], r])
  });
  series.push({
    type: 'line', name: 'VaR', xAxisIndex: p, yAxisIndex: p, z: 3,
    symbol: 'none', lineStyle: { color: VAR_C, width: 1.8 }, itemStyle: { color: VAR_C },
    data: varByPanel[p]
  });
  series.push({
    type: 'line', name: 'ES', xAxisIndex: p, yAxisIndex: p, z: 4,
    symbol: 'none', lineStyle: { color: ES_C, width: 1.8 }, itemStyle: { color: ES_C },
    data: esByPanel[p]
  });

  legends.push({
    data: [{ name, icon: DOT_ICON }, 'VaR', 'ES'],
    left: 78, top: legendTops[p], orient: 'horizontal',
    itemWidth: 30, itemHeight: 3, itemGap: 32, padding: [3, 8, 3, 6],
    backgroundColor: 'rgba(255,255,255,0.8)', borderColor: '#d6d6d6', borderWidth: 1, borderRadius: 3,
    selectedMode: false,
    textStyle: { fontFamily: FONT, fontSize: 14, color: '#262626', padding: [0, 0, 0, 6] }
  });
});

const chart = echarts.init(document.getElementById('chart'), null, { renderer: 'canvas' });
chart.setOption({
  backgroundColor: '#ffffff',
  animation: false,
  textStyle: { fontFamily: FONT },
  grid: grids,
  xAxis: xAxes,
  yAxis: yAxes,
  legend: legends,
  series
});
</script>
</body>
</html>
